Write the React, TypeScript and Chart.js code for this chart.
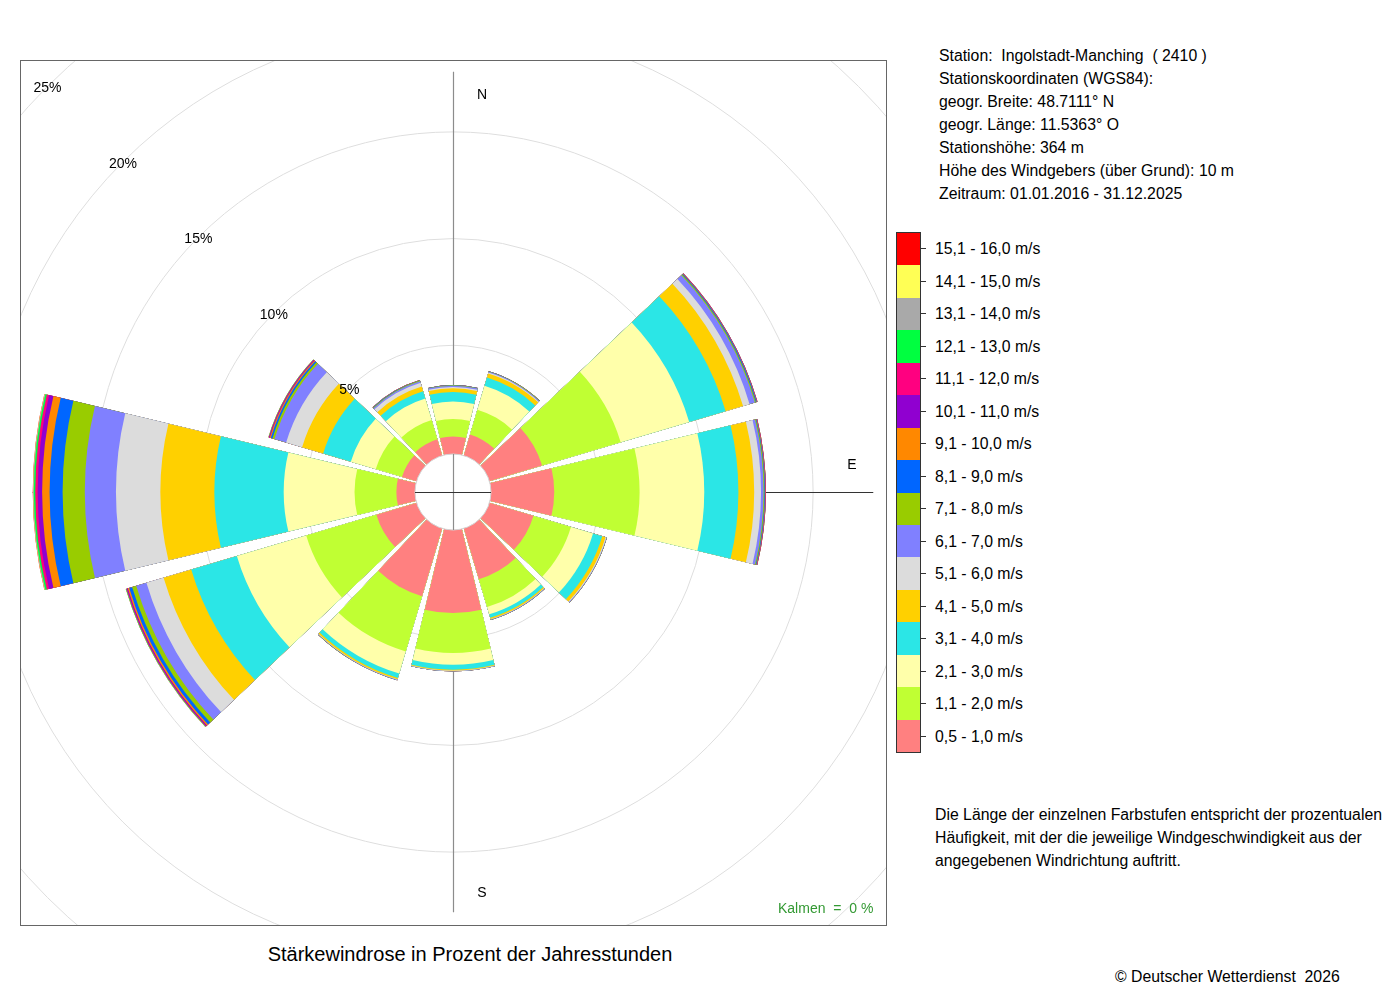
import React, { useEffect, useRef } from "react";
import { Chart, registerables } from "chart.js";

Chart.register(...registerables);

// ---- data (percent of annual hours) ----
const directions = ["N", "NNO", "ONO", "O", "OSO", "SSO", "S", "SSW", "WSW", "W", "WNW", "NNW"];

const speedClasses = [
  "0,5 - 1,0 m/s", "1,1 - 2,0 m/s", "2,1 - 3,0 m/s", "3,1 - 4,0 m/s",
  "4,1 - 5,0 m/s", "5,1 - 6,0 m/s", "6,1 - 7,0 m/s", "7,1 - 8,0 m/s",
  "8,1 - 9,0 m/s", "9,1 - 10,0 m/s", "10,1 - 11,0 m/s", "11,1 - 12,0 m/s",
  "12,1 - 13,0 m/s", "13,1 - 14,0 m/s", "14,1 - 15,0 m/s", "15,1 - 16,0 m/s",
];

const classColors = [
  "#FF8080", "#C0FF33", "#FFFFAA", "#2BE6E6", "#FFD000", "#DCDCDC", "#8080FF", "#99CC00",
  "#0066FF", "#FF8800", "#9000D0", "#FF0080", "#00FF40", "#A9A9A9", "#FFFF55", "#FF0000",
];

//                 N     NNO   ONO   O     OSO   SSO   S     SSW   WSW   W     WNW   NNW
const s05_10   = [0.73, 0.93, 2.48, 2.87, 2.06, 2.39, 3.80, 3.22, 1.87, 0.78, 0.62, 0.70];
const s11_20   = [0.82, 1.22, 3.84, 4.00, 1.83, 1.36, 1.87, 2.70, 3.43, 1.96, 1.28, 0.94];
const s21_30   = [0.82, 1.17, 3.35, 3.03, 1.08, 0.35, 0.55, 1.08, 3.39, 3.32, 1.22, 1.06];
const s31_40   = [0.44, 0.40, 1.78, 1.60, 0.45, 0.17, 0.23, 0.21, 2.23, 3.25, 1.35, 0.35];
const s41_50   = [0.18, 0.20, 0.85, 0.74, 0.16, 0.06, 0.04, 0.07, 1.35, 2.53, 1.03, 0.23];
const s51_60   = [0.06, 0.04, 0.32, 0.32, 0.04, 0.02, 0.02, 0.02, 0.84, 2.08, 0.78, 0.19];
const s61_70   = [0.06, 0.04, 0.26, 0.12, 0.02, 0.02, 0.01, 0.02, 0.50, 1.46, 0.57, 0.07];
const s71_80   = [0.02, 0.02, 0.05, 0.04, 0.01, 0.01, 0.00, 0.01, 0.20, 1.04, 0.10, 0.03];
const s81_90   = [0.01, 0.01, 0.04, 0.03, 0.00, 0.00, 0.00, 0.00, 0.14, 0.61, 0.08, 0.02];
const s91_100  = [0.00, 0.00, 0.02, 0.02, 0.00, 0.00, 0.00, 0.00, 0.07, 0.35, 0.05, 0.01];
const s101_110 = [0.00, 0.00, 0.01, 0.01, 0.00, 0.00, 0.00, 0.00, 0.04, 0.21, 0.03, 0.00];
const s111_120 = [0.00, 0.00, 0.01, 0.01, 0.00, 0.00, 0.00, 0.00, 0.03, 0.11, 0.02, 0.00];
const s121_130 = [0.00, 0.00, 0.00, 0.00, 0.00, 0.00, 0.00, 0.00, 0.02, 0.07, 0.01, 0.00];
const s131_140 = [0.00, 0.00, 0.00, 0.00, 0.00, 0.00, 0.00, 0.00, 0.01, 0.03, 0.01, 0.00];
const s141_150 = [0.00, 0.00, 0.00, 0.00, 0.00, 0.00, 0.00, 0.00, 0.00, 0.01, 0.00, 0.00];
const s151_160 = [0.00, 0.00, 0.00, 0.00, 0.00, 0.00, 0.00, 0.00, 0.00, 0.01, 0.00, 0.00];

const ringValues = [5, 10, 15, 20, 25, 30];
const ringLabels = ["5%", "10%", "15%", "20%", "25%", "30%"];
const stationLines = [
  "Station:  Ingolstadt-Manching  ( 2410 )",
  "Stationskoordinaten (WGS84):",
  "geogr. Breite: 48.7111° N",
  "geogr. Länge: 11.5363° O",
  "Stationshöhe: 364 m",
  "Höhe des Windgebers (über Grund): 10 m",
  "Zeitraum: 01.01.2016 - 31.12.2025",
];
const noteLines = [
  "Die Länge der einzelnen Farbstufen entspricht der prozentualen",
  "Häufigkeit, mit der die jeweilige Windgeschwindigkeit aus der",
  "angegebenen Windrichtung auftritt.",
];
const titleText = "Stärkewindrose in Prozent der Jahresstunden";
const calmText = "Kalmen  =  0 %";
const copyrightText = "© Deutscher Wetterdienst  2026";

const classValues = [
  s05_10, s11_20, s21_30, s31_40, s41_50, s51_60, s61_70, s71_80,
  s81_90, s91_100, s101_110, s111_120, s121_130, s131_140, s141_150, s151_160,
];

// ---- geometry settings ----
const CANVAS = 1400;
const PX_PER_PCT = 21.34;
const HOLE_PX = 40;
const WEDGE_DEG = 27;
const GAP_DEG = 3;
const FONT = '"Liberation Sans", Arial, Helvetica, sans-serif';
const TEXT_SIZE = 15.8;

const FFF = "#ffffff";

function buildCumulative() {
  return classValues.map((_, k) =>
    directions.map((__, i) => {
      let s = 0;
      for (let j = 0; j <= k; j++) s += classValues[j][i];
      return Math.round(s * 1000) / 1000;
    })
  );
}

export default function App() {
  const canvasRef = useRef<HTMLCanvasElement | null>(null);

  useEffect(() => {
    const canvas = canvasRef.current;
    if (!canvas) return;
    const cumulative = buildCumulative();
    const totals = cumulative[cumulative.length - 1];
    const axisExtent = Math.max(...totals);

    const labels: string[] = [];
    directions.forEach((d) => {
      labels.push(d);
      labels.push("");
    });

    const datasets = cumulative.map((cum, k) => {
      const data: number[] = [];
      cum.forEach((v) => {
        data.push(v);
        data.push(0);
      });
      return {
        label: speedClasses[k],
        data,
        backgroundColor: (ctx: any) => (ctx.dataIndex % 2 === 0 ? classColors[k] : "rgba(0,0,0,0)"),
        borderWidth: 0,
        angle: (ctx: any) => (ctx.dataIndex % 2 === 0 ? WEDGE_DEG : GAP_DEG),
      };
    });

    const drawArea = CANVAS / 2;
    const span = drawArea / PX_PER_PCT;
    const rMin = -HOLE_PX / PX_PER_PCT;
    const rMax = rMin + span;

    const decor = {
      id: "decor",
      beforeDatasetsDraw(chart: any) {
        const s = chart.scales.r;
        const ctx = chart.ctx;
        const cx = s.xCenter;
        const cy = s.yCenter;
        const L = s.getDistanceFromCenterForValue(axisExtent);
        ctx.save();
        ctx.lineWidth = 1.2;
        ctx.strokeStyle = "#8c8c8c";
        ctx.beginPath();
        ctx.moveTo(cx + 0.5, cy - L);
        ctx.lineTo(cx + 0.5, cy + L);
        ctx.stroke();
        ctx.lineWidth = 1;
        ctx.strokeStyle = "#333333";
        ctx.beginPath();
        ctx.moveTo(cx - L, cy + 0.5);
        ctx.lineTo(cx + L, cy + 0.5);
        ctx.stroke();
        ctx.restore();
      },
      afterDatasetsDraw(chart: any) {
        const s = chart.scales.r;
        const ctx = chart.ctx;
        const cx = s.xCenter;
        const cy = s.yCenter;
        const hole = s.getDistanceFromCenterForValue(0) - 2;
        ctx.save();
        ctx.beginPath();
        ctx.arc(cx, cy, hole, 0, Math.PI * 2);
        ctx.fillStyle = FFF;
        ctx.fill();
        ctx.lineWidth = 1;
        ctx.strokeStyle = "#d4d4d4";
        ctx.stroke();
        ctx.lineWidth = 1.2;
        ctx.strokeStyle = "#8c8c8c";
        ctx.beginPath();
        ctx.moveTo(cx + 0.5, cy - hole);
        ctx.lineTo(cx + 0.5, cy + hole);
        ctx.stroke();
        ctx.lineWidth = 1;
        ctx.strokeStyle = "#333333";
        ctx.beginPath();
        ctx.moveTo(cx - hole, cy + 0.5);
        ctx.lineTo(cx + hole, cy + 0.5);
        ctx.stroke();

        ctx.fillStyle = "#000000";
        ctx.font = `14px ${FONT}`;
        ctx.textAlign = "center";
        ctx.textBaseline = "middle";
        const c = Math.SQRT1_2;
        ringValues.forEach((v, i) => {
          const d = s.getDistanceFromCenterForValue(v);
          ctx.fillText(ringLabels[i], cx - d * c, cy - d * c + 2);
        });
        ctx.restore();
      },
    };

    const chart = new Chart(canvas, {
      type: "polarArea",
      data: { labels, datasets: datasets as any },
      options: {
        responsive: false,
        animation: false,
        devicePixelRatio: 1,
        layout: { padding: 0 },
        plugins: { legend: { display: false }, tooltip: { enabled: false } },
        events: [],
        scales: {
          r: {
            type: "radialLinear",
            min: rMin,
            max: rMax,
            startAngle: -WEDGE_DEG / 2,
            ticks: { display: false },
            pointLabels: { display: false },
            angleLines: { display: false },
            grid: { circular: true, color: "#dedede", lineWidth: 1 },
            afterBuildTicks: (scale: any) => {
              scale.ticks = ringValues.map((v) => ({ value: v }));
            },
          } as any,
        },
      } as any,
      plugins: [decor],
    });

    return () => chart.destroy();
  }, []);

  const cxPage = 453;
  const cyPage = 492;
  const boxLeft = 20;
  const boxTop = 60;

  const legendTop = 232;
  const rowH = 32.5;
  const legendOrder = speedClasses.map((_, i) => speedClasses.length - 1 - i);

  return (
    <div
      style={{
        position: "absolute",
        left: 0,
        top: 0,
        width: 1400,
        height: 1000,
        background: "#fff",
        fontFamily: FONT,
        color: "#000",
        overflow: "hidden",
      }}
    >
      <div
        style={{
          position: "absolute",
          left: boxLeft,
          top: boxTop,
          width: 867,
          height: 866,
          boxSizing: "border-box",
          border: "1px solid #666",
          overflow: "hidden",
        }}
      >
        <canvas
          ref={canvasRef}
          width={CANVAS}
          height={CANVAS}
          style={{
            position: "absolute",
            left: cxPage - CANVAS / 2 - boxLeft - 1,
            top: cyPage - CANVAS / 2 - boxTop - 1,
            width: CANVAS,
            height: CANVAS,
          }}
        />
      </div>

      {[
        { t: "N", x: 482, y: 94 },
        { t: "E", x: 852, y: 464 },
        { t: "S", x: 482, y: 892 },
      ].map((d) => (
        <div
          key={d.t}
          style={{
            position: "absolute",
            left: d.x,
            top: d.y,
            transform: "translate(-50%, -50%)",
            fontSize: 14,
            lineHeight: "16px",
          }}
        >
          {d.t}
        </div>
      ))}

      <div
        style={{
          position: "absolute",
          left: 778,
          top: 900,
          fontSize: 14,
          lineHeight: "16px",
          color: "#339933",
          whiteSpace: "pre",
        }}
      >
        {calmText}
      </div>

      {stationLines.map((line, i) => (
        <div
          key={i}
          style={{
            position: "absolute",
            left: 939,
            top: 43.5 + 23 * i,
            fontSize: TEXT_SIZE,
            lineHeight: "23px",
            whiteSpace: "pre",
          }}
        >
          {line}
        </div>
      ))}

      <div
        style={{
          position: "absolute",
          left: 896,
          top: legendTop,
          width: 25,
          height: rowH * speedClasses.length + 1,
          boxSizing: "border-box",
          border: "1px solid #333",
          display: "flex",
          flexDirection: "column",
        }}
      >
        {legendOrder.map((k) => (
          <div key={k} style={{ flex: "1 1 0", background: classColors[k] }} />
        ))}
      </div>
      {legendOrder.map((k, i) => (
        <React.Fragment key={k}>
          <div
            style={{
              position: "absolute",
              left: 921,
              top: legendTop + (i + 0.5) * rowH,
              width: 5,
              height: 1,
              background: "#333",
            }}
          />
          <div
            style={{
              position: "absolute",
              left: 935,
              top: legendTop + (i + 0.5) * rowH - 11,
              fontSize: TEXT_SIZE,
              lineHeight: "23px",
              whiteSpace: "pre",
            }}
          >
            {speedClasses[k]}
          </div>
        </React.Fragment>
      ))}

      <div
        style={{
          position: "absolute",
          left: 935,
          top: 802.5,
          fontSize: TEXT_SIZE,
          lineHeight: "23px",
          whiteSpace: "pre",
        }}
      >
        {noteLines.join("\n")}
      </div>

      <div
        style={{
          position: "absolute",
          left: 470,
          top: 942,
          transform: "translateX(-50%)",
          fontSize: 20,
          lineHeight: "24px",
          whiteSpace: "nowrap",
        }}
      >
        {titleText}
      </div>

      <div
        style={{
          position: "absolute",
          left: 1115,
          top: 964.5,
          fontSize: TEXT_SIZE,
          lineHeight: "23px",
          whiteSpace: "pre",
        }}
      >
        {copyrightText}
      </div>
    </div>
  );
}
